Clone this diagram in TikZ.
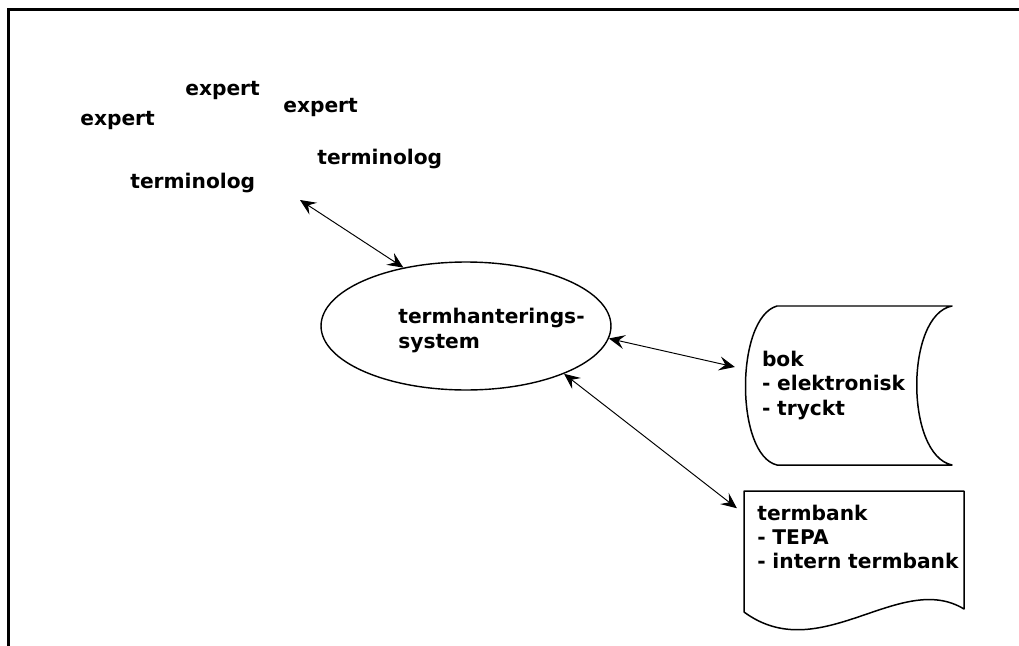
\documentclass[tikz,border=0pt]{standalone}
\usepackage{fontspec}
\setmainfont{DejaVu Sans}
\usetikzlibrary{shapes,arrows.meta,positioning,calc}

\begin{document}
\begin{tikzpicture}[
    x=0.02cm, y=-0.02cm,
    every node/.style={font=\fontsize{11.5}{13.7}\selectfont\bfseries},
    label/.style={anchor=base west, inner sep=0pt},
    store/.style={rectangle, align=left, inner ysep=0pt},
    outline/.style={line width=0.85pt, line join=round},
    arrow/.style={<->, >={Stealth[length=9pt,width=8pt,inset=3.5pt]}, line width=0.55pt}
]
\useasboundingbox (0,0) rectangle (1019,646);

% Frame
\draw[line width=1.4pt] (1019,9.5) -- (8.5,9.5) -- (8.5,646);

% Team
\node[label] (exp1) at (185,95) {expert};
\node[label] (exp2) at (80,125) {expert};
\node[label] (exp3) at (283,112) {expert};
\node[label] (term1) at (317,164) {terminolog};
\node[label] (term2) at (130,188) {terminolog};
\coordinate (team) at (300,200);

% System
\node[ellipse, draw, line width=0.8pt, minimum width=5.8cm, minimum height=2.56cm, inner sep=0pt] (sys) at (466,326) {};
\node[label, align=left] (systxt) at (398,348) {termhanterings-\\system};

% Book
\node[store, minimum width=4.16cm, minimum height=3.18cm, text width=3.44cm, inner xsep=0.36cm] (bok) at (848,385.5) {bok\\- elektronisk\\- tryckt};
\draw[outline] (777,306) -- (952,306)
    .. controls (905,315) and (905,455) .. (952,465) -- (777,465)
    .. controls (735,455) and (735,318) .. cycle;

% Termbank
\node[store, anchor=north west, text width=4.3cm, inner xsep=0.26cm, inner ysep=0.28cm] (tbank) at (744,491) {termbank\\- TEPA\\- intern termbank};
\draw[outline] (744,491) -- (964,491) -- (964,609)
    .. controls (900,570) and (820,668) .. (744,612) -- cycle;

% Arrows
\draw[arrow] (team) -- (sys.137.4);
\draw[arrow, shorten >=0.18cm] (sys.-5.6) -- (bok.171.5);
\draw[arrow, shorten >=0.18cm] (sys.-26.1) -- (tbank.169.2);

\end{tikzpicture}
\end{document}
